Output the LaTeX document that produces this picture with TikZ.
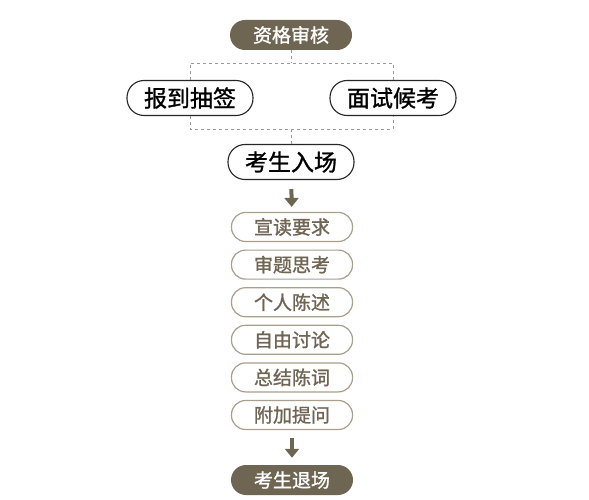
\documentclass[tikz,border=0pt]{standalone}
\usepackage{fontspec}
\setmainfont{Noto Sans CJK SC}
\newfontfamily\medfont{Noto Sans CJK SC}[RawFeature={embolden=1.2}]
\usetikzlibrary{positioning,arrows.meta}
\definecolor{brown}{HTML}{6F6553}
\definecolor{pale}{HTML}{A89F8C}
\tikzset{x=1pt, y=-1pt,
  dark/.style={rectangle, rounded corners=15pt, fill=brown, text=white, minimum width=122pt, minimum height=30pt, font=\fontsize{19}{19}\medfont, inner sep=0pt},
  big/.style={rectangle, rounded corners=17pt, draw=black!85, line width=1.1pt, fill=white, minimum width=126pt, minimum height=35pt, font=\fontsize{23}{23}\medfont, inner sep=0pt},
  small/.style={rectangle, rounded corners=14pt, draw=pale, line width=1.2pt, fill=white, text=brown, minimum width=121pt, minimum height=29pt, font=\fontsize{19}{19}\medfont, inner sep=0pt},
  dashline/.style={draw=gray!80, dashed, line width=0.8pt},
  arr/.style={-{Triangle[width=14pt,length=9pt]}, line width=4pt, draw=brown}}

\begin{document}
\begin{tikzpicture}
\useasboundingbox (0,0) rectangle (589,500);
\node[dark] (check) at (291,35) {资格审核};
\node[big] (draw) at (190,98) {报到抽签};
\node[big] (wait) at (393,98) {面试候考};
\node[big] (enter) at (291,162) {考生入场};
\coordinate (top) at (291,63);
\coordinate (bot) at (291,129);
% dashed brackets
\draw[dashline] (check) -- (top);
\draw[dashline] (draw.north) |- (top) -| (wait.north);
\draw[dashline] (draw.south) |- (bot) -| (wait.south);
\draw[dashline] (bot) -- (enter);
% steps
\foreach \t [count=\i] in {宣读要求,审题思考,个人陈述,自由讨论,总结陈词,附加提问}
  \node[small] (s\i) at (292,{227+37.6*(\i-1)}) {\t};
\node[dark] (exit) at (292,480) {考生退场};
\draw[arr, shorten <=9pt, shorten >=5pt] (enter) -- (s1);
\draw[arr, shorten <=8pt, shorten >=7pt] (s6) -- (exit);
\end{tikzpicture}
\end{document}
